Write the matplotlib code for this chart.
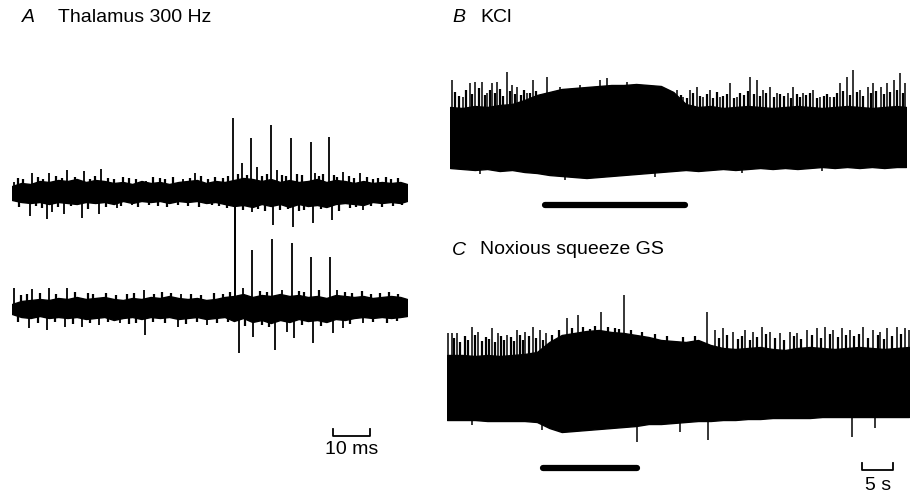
import matplotlib
matplotlib.use("Agg")
import matplotlib.pyplot as plt

# ---------------- DATA ----------------
# Panel A: thalamic recording, time in ms, amplitude in arbitrary units
a_t = [0, 2.5, 5, 7.5, 10, 12.5, 15, 17.5, 20, 22.5, 25, 27.5, 30, 32.5, 35,
       37.5, 40, 42.5, 45, 47.5, 50, 52.5, 55, 57.5, 60, 62.5, 65, 67.5, 70,
       72.5, 75, 77.5, 80, 82.5, 85, 87.5, 90, 92.5, 95, 97.5, 100, 102.5,
       105, 106.8]
a1_upper = [6, 9, 8, 11, 10, 12, 11, 13, 10, 12, 11, 9, 10, 8, 11, 9, 10, 8,
            10, 11, 12, 9, 11, 10, 12, 14, 13, 11, 13, 10, 12, 10, 11, 13, 10,
            12, 11, 9, 11, 9, 10, 9, 10, 8]
a1_lower = [-8, -10, -11, -10, -12, -10, -11, -12, -10, -11, -10, -12, -9,
            -11, -9, -10, -9, -11, -9, -10, -9, -11, -10, -12, -14, -13, -15,
            -12, -14, -12, -15, -12, -14, -13, -15, -12, -11, -12, -13, -10,
            -11, -10, -11, -9]
a2_upper = [4, 7, 8, 9, 8, 10, 9, 11, 9, 10, 11, 9, 8, 10, 9, 11, 10, 12, 10,
            9, 10, 8, 9, 11, 12, 14, 11, 13, 12, 14, 12, 13, 11, 12, 10, 13,
            12, 11, 12, 10, 11, 12, 11, 9]
a2_lower = [-6, -9, -10, -8, -10, -9, -10, -9, -11, -10, -9, -12, -10, -9,
            -11, -9, -10, -9, -11, -10, -9, -11, -10, -9, -13, -10, -14, -12,
            -15, -12, -14, -11, -13, -12, -14, -11, -12, -10, -9, -10, -9,
            -10, -9, -8]

# unit spikes of trace A1 (upper trace): time (ms), peak amplitude
a1_up_t = [0.5, 5.4, 10.0, 14.9, 19.5, 24.1, 36.2, 46.2, 49.5, 59.7, 62.2,
           64.6, 66.2, 70.0, 71.6, 75.4, 80.8, 81.9, 85.7, 89.5, 94.1]
a1_up_v = [10, 19, 19, 22, 21, 23, 11, 13, 19, 74, 29, 54, 25, 67, 22, 54,
           50, 19, 55, 20, 19]
a1_dn_t = [4.9, 9.5, 10.8, 14.1, 18.9, 23.5, 28.4, 32.4, 60.3, 64.9, 70.5,
           75.9, 81.4, 86.5, 94.9]
a1_dn_v = [-24, -27, -20, -22, -26, -22, -16, -13, -108, -20, -33, -35, -31,
           -28, -18]
# small noise deflections of trace A1
a1_gu_t = [1.5, 3.0, 7.0, 8.5, 12.0, 13.5, 17.0, 21.0, 22.5, 26.0, 27.5,
           30.0, 31.5, 33.5, 38.0, 40.0, 41.5, 43.5, 48.0, 51.0, 53.0, 55.0,
           57.0, 58.5, 61.0, 63.5, 67.5, 69.0, 73.0, 74.0, 77.0, 78.5, 83.0,
           84.0, 87.0, 88.0, 91.0, 92.5, 96.0, 97.5, 99.0, 101.0, 102.5, 104.5]
a1_gu_v = [14, 13, 15, 13, 16, 14, 15, 13, 16, 14, 13, 15, 14, 13, 15, 14,
           13, 15, 14, 16, 13, 15, 14, 16, 18, 17, 16, 18, 17, 16, 18, 17, 16,
           18, 17, 15, 16, 14, 15, 13, 14, 15, 13, 14]
a1_gd_t = [2.0, 6.5, 8.0, 12.5, 16.0, 20.5, 25.5, 29.5, 34.0, 37.0, 39.5,
           42.0, 45.0, 47.5, 50.5, 54.0, 56.0, 58.0, 62.5, 66.5, 68.5, 72.5,
           74.5, 77.5, 79.0, 83.5, 88.5, 91.5, 93.0, 97.0, 100.0, 103.0, 105.5]
a1_gd_v = [-15, -14, -16, -15, -14, -17, -15, -14, -15, -13, -14, -15, -13,
           -14, -15, -13, -14, -16, -18, -17, -19, -18, -17, -19, -18, -17,
           -19, -16, -15, -14, -15, -14, -13]
# unit spikes of trace A2 (lower trace)
a2_up_t = [0.5, 5.4, 10.0, 14.9, 35.7, 45.7, 60.3, 62.4, 64.9, 70.3, 73.0,
           75.7, 80.8, 85.9, 87.8]
a2_up_v = [20, 19, 20, 20, 18, 14, 108, 20, 58, 69, 18, 65, 51, 51, 18]
a2_dn_t = [4.6, 9.5, 14.3, 18.9, 23.5, 29.2, 35.9, 44.9, 52.7, 61.4, 65.1,
           71.1, 74.3, 76.2, 81.4, 86.8, 89.5, 94.9]
a2_dn_v = [-20, -22, -19, -19, -17, -15, -27, -19, -17, -45, -29, -42, -24,
           -30, -35, -25, -20, -15]
# small noise deflections of trace A2
a2_gu_t = [2.5, 4.0, 7.5, 12.0, 17.0, 20.5, 22.0, 25.5, 28.0, 31.0, 33.0,
           38.5, 40.5, 43.0, 48.5, 51.0, 54.5, 57.0, 59.0, 67.0, 69.0, 77.5,
           79.0, 83.0, 90.0, 92.0, 94.5, 97.0, 99.5, 102.0, 104.5]
a2_gu_v = [13, 14, 15, 14, 16, 15, 14, 15, 13, 14, 15, 14, 16, 15, 14, 13,
           15, 14, 16, 17, 16, 17, 16, 18, 16, 15, 17, 14, 15, 16, 14]
a2_gd_t = [1.5, 7.0, 11.5, 16.5, 21.0, 26.0, 31.5, 33.5, 38.0, 41.5, 47.0,
           50.0, 55.5, 58.5, 63.0, 67.5, 69.5, 78.5, 83.5, 91.5, 97.5, 101.5,
           104.0]
a2_gd_v = [-14, -15, -14, -16, -15, -14, -16, -15, -14, -15, -16, -14, -15,
           -14, -18, -17, -19, -17, -18, -16, -14, -15, -13]
a_scale_ms = 10

# Panel B: KCl, time in s
b_t = [0, 2, 4, 6, 8, 10, 12, 14, 16, 18, 20, 22, 24, 26, 28, 30, 32, 34, 36,
       38, 40, 42, 44, 46, 48, 50, 52, 54, 56, 58, 60, 62, 64, 66, 68, 70, 72,
       73.5]
b_upper = [33, 32, 34, 33, 35, 36, 40, 45, 48, 51, 52, 53, 54, 55, 55, 56, 55,
           54, 48, 36, 33, 34, 32, 33, 34, 33, 32, 33, 34, 33, 32, 33, 34, 33,
           32, 33, 34, 33]
b_lower = [-28, -29, -30, -29, -31, -30, -32, -33, -35, -36, -37, -38, -37,
           -36, -35, -34, -33, -32, -31, -30, -31, -30, -29, -30, -29, -28,
           -29, -28, -29, -28, -27, -28, -27, -28, -27, -28, -27, -27]
b_spk_t = [0.3, 2.1, 3.2, 4.0, 5.2, 6.0, 6.8, 7.6, 9.2, 10.0, 10.8, 12.4,
           13.4, 15.6, 17.7, 21.0, 24.2, 25.3, 28.5, 31.8, 36.6, 37.6, 38.7,
           39.8, 40.8, 41.9, 43.5, 45.2, 46.3, 48.4, 49.5, 50.5, 51.6, 52.7,
           54.4, 55.3, 56.9, 58.5, 59.7, 61.3, 62.9, 64.0, 65.0, 66.1, 67.3,
           68.2, 69.4, 70.5, 71.5, 72.6, 73.4]
b_spk_v = [60, 43, 57, 58, 58, 47, 57, 58, 68, 55, 53, 47, 60, 63, 53, 55,
           60, 62, 58, 55, 50, 43, 50, 53, 43, 50, 43, 57, 43, 63, 60, 50, 53,
           47, 47, 53, 47, 50, 43, 43, 57, 63, 70, 50, 53, 57, 53, 57, 60, 67,
           57]
# dense background firing ("grass") above the band
b_grass_t = [0.8, 1.4, 2.6, 3.6, 4.6, 5.6, 6.4, 7.2, 8.0, 8.6, 9.6, 10.4,
             11.4, 12.0, 12.9, 13.8, 14.6, 37.2, 38.2, 39.2, 40.3, 41.4, 42.4,
             43.0, 44.0, 44.6, 45.8, 46.8, 47.4, 48.0, 49.0, 50.0, 51.0, 52.2,
             53.2, 53.8, 54.9, 55.9, 56.4, 57.4, 58.0, 59.2, 60.3, 60.8, 61.9,
             62.4, 63.4, 64.5, 65.6, 66.6, 67.8, 68.7, 69.9, 70.9, 72.0, 73.0]
b_grass_v = [48, 44, 50, 46, 52, 45, 50, 47, 51, 44, 49, 46, 45, 50, 47, 49,
             46, 45, 42, 47, 44, 46, 42, 48, 44, 46, 42, 47, 45, 49, 46, 44,
             47, 43, 46, 44, 42, 46, 43, 45, 47, 42, 44, 46, 43, 47, 49, 45,
             48, 44, 47, 49, 46, 48, 50, 47]
b_dn_t = [4.8, 18.5, 23.1, 33.0, 47.0, 60.0]
b_dn_v = [-34, -40, -38, -37, -33, -31]
b_stim = [15.3, 37.9]

# Panel C: noxious squeeze, time in s
c_t = [-0.5, 2, 4, 6, 8, 10, 12, 14, 16, 18, 20, 22, 24, 26, 28, 30, 32, 34,
       36, 38, 40, 42, 44, 46, 48, 50, 52, 54, 56, 58, 60, 62, 64, 66, 68, 70,
       72, 74]
c_upper = [35, 35, 34, 35, 34, 35, 36, 38, 48, 55, 57, 59, 60, 58, 57, 55, 53,
           50, 49, 48, 50, 45, 42, 41, 42, 43, 41, 40, 42, 43, 42, 41, 42, 43,
           42, 41, 42, 43]
c_lower = [-30, -30, -30, -31, -31, -31, -31, -32, -38, -42, -41, -40, -39,
           -38, -37, -36, -34, -34, -33, -32, -31, -31, -30, -30, -29, -29,
           -28, -28, -28, -28, -27, -27, -27, -27, -27, -27, -27, -27]
c_spk_t = [-0.3, 0.3, 1.1, 3.5, 4.5, 6.8, 7.7, 9.2, 10.8, 12.1, 13.4, 14.5,
           15.5, 18.9, 20.6, 24.4, 28.1, 41.5, 42.7, 44.0, 45.6, 47.6, 48.9,
           50.3, 51.6, 53.2, 54.8, 55.9, 57.6, 59.2, 60.5, 61.8, 63.2, 64.5,
           66.6, 68.2, 69.4, 70.5, 72.1, 73.4, 74.0]
c_spk_v = [57, 57, 57, 63, 58, 62, 57, 55, 60, 58, 63, 60, 57, 72, 75, 78,
           95, 78, 60, 62, 58, 60, 58, 63, 58, 57, 58, 57, 60, 62, 63, 60, 62,
           60, 63, 60, 58, 62, 63, 62, 60]
c_grass_t = [0.7, 1.6, 2.4, 2.9, 4.0, 5.2, 5.8, 6.3, 7.2, 8.2, 8.7, 9.8,
             10.3, 11.3, 11.7, 12.7, 13.9, 15.0, 16.5, 17.5, 19.6, 21.5, 22.6,
             23.4, 25.5, 26.6, 27.3, 29.2, 31.0, 33.0, 35.0, 37.5, 39.5, 43.3,
             44.6, 46.4, 47.0, 48.3, 49.5, 50.9, 52.4, 53.9, 55.4, 56.6, 58.3,
             59.8, 61.2, 62.5, 63.8, 65.2, 66.0, 67.4, 69.0, 70.0, 71.3, 72.7]
c_grass_v = [52, 48, 54, 50, 55, 49, 53, 51, 48, 54, 50, 53, 49, 55, 50, 54,
             52, 50, 55, 60, 62, 63, 61, 64, 63, 62, 61, 60, 58, 56, 54, 53,
             54, 52, 55, 51, 54, 50, 53, 56, 52, 50, 54, 51, 55, 52, 56, 53,
             55, 54, 56, 52, 55, 51, 54, 56]
c_dn_t = [3.5, 14.8, 30.2, 37.1, 41.6, 64.8, 68.5]
c_dn_v = [-35, -40, -52, -42, -50, -47, -38]
c_stim = [15.0, 30.2]
c_scale_s = 5

# ---------------- LAYOUT ----------------
W, H = 913, 495
fig = plt.figure(figsize=(W / 100, H / 100), dpi=100)
fig.patch.set_facecolor("white")
FONT = "Liberation Sans"
FS = 14


def make_ax(x0, x1, t0, t1, base):
    """Axes spanning full figure height; 1 y-unit == 1 pixel, 0 at base."""
    ax = fig.add_axes([x0 / W, 0, (x1 - x0) / W, 1])
    ax.set_xlim(t0, t1)
    ax.set_ylim(-(H - base), base)
    ax.axis("off")
    ax.patch.set_alpha(0)
    return ax


def draw_band(ax, t, up, lo):
    ax.fill_between(t, lo, up, color="black", lw=1.0, edgecolor="black")


def draw_spikes(ax, ts, vs, lw):
    ax.vlines(ts, 0, vs, color="black", lw=lw, clip_on=False)


# Panel A
axA1 = make_ax(12, 407, 0, 106.8, 192)
draw_band(axA1, a_t, a1_upper, a1_lower)
draw_spikes(axA1, a1_gu_t, a1_gu_v, 1.6)
draw_spikes(axA1, a1_gd_t, a1_gd_v, 1.6)
draw_spikes(axA1, a1_up_t, a1_up_v, 1.3)
draw_spikes(axA1, a1_dn_t, a1_dn_v, 1.3)

axA2 = make_ax(12, 407, 0, 106.8, 308)
draw_band(axA2, a_t, a2_upper, a2_lower)
draw_spikes(axA2, a2_gu_t, a2_gu_v, 1.6)
draw_spikes(axA2, a2_gd_t, a2_gd_v, 1.6)
draw_spikes(axA2, a2_up_t, a2_up_v, 1.3)
draw_spikes(axA2, a2_dn_t, a2_dn_v, 1.3)

# 10 ms scale bar
sx0 = 86.8
axA2.plot([sx0, sx0, sx0 + a_scale_ms, sx0 + a_scale_ms],
          [-121, -128, -128, -121], color="black", lw=1.3, clip_on=False)
fig.text(352 / W, 1 - 450 / H, "10 ms", ha="center", va="center",
         fontsize=FS, family=FONT)

# Panel B
axB = make_ax(450, 906, 0, 73.5, 140)
draw_band(axB, b_t, b_upper, b_lower)
draw_spikes(axB, b_grass_t, b_grass_v, 1.6)
draw_spikes(axB, b_spk_t, b_spk_v, 1.1)
draw_spikes(axB, b_dn_t, b_dn_v, 1.1)
axB.plot(b_stim, [-65, -65], color="black", lw=4.5, solid_capstyle="round",
         clip_on=False)

# Panel C
axC = make_ax(447, 909, -0.5, 74, 390)
draw_band(axC, c_t, c_upper, c_lower)
draw_spikes(axC, c_grass_t, c_grass_v, 1.6)
draw_spikes(axC, c_spk_t, c_spk_v, 1.1)
draw_spikes(axC, c_dn_t, c_dn_v, 1.1)
axC.plot(c_stim, [-78, -78], color="black", lw=4.5, solid_capstyle="round",
         clip_on=False)
s0 = 66.5
axC.plot([s0, s0, s0 + c_scale_s, s0 + c_scale_s], [-73, -80, -80, -73],
         color="black", lw=1.3, clip_on=False)
fig.text(878 / W, 1 - 486 / H, "5 s", ha="center", va="center",
         fontsize=FS, family=FONT)

# Panel labels
for (xl, xt, y, lab, txt) in [(22, 58, 17, "A", "Thalamus 300 Hz"),
                              (452, 480, 17, "B", "KCl"),
                              (452, 480, 250, "C", "Noxious squeeze GS")]:
    fig.text(xl / W, 1 - y / H, lab, ha="left", va="center", fontsize=FS,
             family=FONT, style="italic")
    fig.text(xt / W, 1 - y / H, txt, ha="left", va="center", fontsize=FS,
             family=FONT)

fig.savefig("out.png", dpi=100, facecolor="white")
